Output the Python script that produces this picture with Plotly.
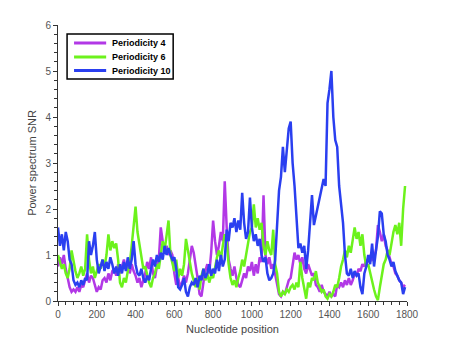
import plotly.graph_objects as go

pos = list(range(0, 1800, 10))

# Periodicity 4 (purple)
p4 = [0.75, 0.95, 0.8, 1.0, 0.7, 0.5, 0.3, 0.2, 0.25, 0.2,
      0.3, 0.2, 0.35, 0.3, 0.45, 0.6, 0.4, 0.55, 0.5, 0.35,
      0.2, 0.3, 0.25, 0.45, 0.5, 0.4, 0.6, 0.45, 0.65, 0.7,
      0.55, 0.8, 0.6, 0.75, 0.9, 0.7, 0.85, 0.6, 0.8, 0.65,
      0.55, 0.4, 0.5, 0.3, 0.45, 0.6, 0.85, 0.7, 0.95, 0.6,
      0.5, 0.75, 0.9, 1.6, 1.3, 1.05, 1.2, 1.0, 1.1, 1.0,
      0.6, 0.35, 0.5, 0.3, 0.4, 0.55, 0.4, 0.6, 0.9, 1.2,
      1.05, 0.8, 0.5, 0.15, 0.1, 0.4, 0.65, 0.8, 0.6, 1.05,
      1.75, 1.3, 1.0, 1.2, 1.5, 1.3, 2.6, 1.6, 0.9, 0.7,
      0.55, 0.75, 0.5, 0.35, 0.3, 0.45, 0.6, 0.5, 0.75, 0.65,
      0.85, 0.55, 0.8, 0.6, 0.95, 0.85, 2.3, 1.0, 0.8, 0.95,
      0.7, 0.8, 0.6, 0.35, 0.15, 0.1, 0.2, 0.15, 0.3, 0.45,
      0.5, 0.75, 1.05, 0.9, 1.0, 0.8, 0.95, 0.7, 0.6, 0.8,
      0.65, 0.55, 0.6, 0.35, 0.3, 0.2, 0.35, 0.2, 0.15, 0.1,
      0.2, 0.1, 0.15, 0.1, 0.35, 0.3, 0.4, 0.3, 0.45, 0.35,
      0.5, 0.35, 0.45, 0.6, 0.55, 0.7, 0.65, 0.8, 0.75, 0.9,
      0.85, 1.0, 0.9, 0.95, 1.1, 1.65, 1.5, 1.3, 1.45, 1.2,
      1.1, 0.95, 0.8, 0.75, 0.6, 0.55, 0.45, 0.4, 0.3, 0.35]

# Periodicity 6 (green)
p6 = [1.0, 0.85, 0.7, 0.8, 0.6, 0.5, 0.7, 1.1, 0.85, 0.65,
      0.5, 0.6, 0.75, 0.55, 0.7, 1.45, 0.9, 0.6, 0.75, 0.5,
      0.65, 0.8, 0.7, 0.9, 0.75, 1.0, 1.45, 1.1, 1.3, 1.15,
      1.25, 0.9, 0.4, 0.3, 0.5, 0.4, 0.65, 0.8, 1.2, 1.6,
      2.05, 1.5, 1.2, 0.95, 0.7, 0.75, 0.55, 0.4, 0.3, 0.5,
      0.6, 0.8, 0.7, 1.0, 1.3, 1.1, 1.5, 1.75, 1.0, 0.8,
      0.65, 0.9, 0.5, 0.7, 0.55, 0.8, 1.35, 1.1, 0.8, 0.6,
      0.45, 0.3, 0.5, 0.25, 0.55, 0.7, 0.45, 0.6, 0.4, 0.55,
      0.5, 0.75, 0.95, 1.1, 0.9, 1.2, 1.45, 1.3, 0.8, 0.5,
      0.35, 0.45, 0.3, 0.5, 0.65, 0.9, 0.75, 1.0, 1.3, 1.5,
      1.6, 2.1, 1.6, 1.8, 1.55, 1.7, 1.2, 1.0, 1.3, 1.1,
      1.0, 1.55, 0.8, 0.6, 0.2, 0.1, 0.2, 0.15, 0.25, 0.2,
      0.3, 0.35, 0.25, 0.4, 0.3, 0.85, 0.5, 0.3, 0.05, 0.4,
      0.3, 0.5, 0.45, 0.65, 0.4, 0.3, 0.2, 0.25, 0.1, 0.05,
      0.15, 0.1, 0.2, 0.35, 0.3, 0.5, 0.75, 0.9, 1.1, 0.95,
      1.2, 1.05, 1.3, 1.6, 1.35, 1.5, 1.2, 1.45, 1.0, 0.75,
      0.8, 0.6, 0.4, 0.25, 0.1, 0.02, 0.3, 0.6, 0.8, 0.9,
      1.1, 1.0, 1.3, 1.5, 1.65, 1.45, 1.7, 1.2, 2.0, 2.5]

# Periodicity 10 (blue)
p10 = [1.6, 1.2, 1.45, 1.1, 1.5, 1.3, 0.9, 0.8, 0.45, 0.35,
       0.4, 0.3, 0.45, 0.35, 0.5, 0.45, 1.3, 1.0, 1.2, 1.5,
       0.9, 0.6, 0.75, 0.9, 0.65, 0.85, 0.7, 0.95, 0.8, 0.6,
       0.75, 0.55, 0.8, 0.6, 0.85, 0.65, 0.95, 0.7, 0.9, 1.3,
       0.8, 0.6, 0.55, 0.7, 0.5, 0.4, 0.55, 0.45, 0.7, 0.9,
       0.75, 1.0, 0.85, 1.05, 0.9, 1.2, 1.0, 1.15, 1.0, 0.9,
       0.95, 0.7, 0.3, 0.25, 0.35, 0.5, 0.2, 0.1, 0.3, 0.4,
       0.35, 0.5, 0.3, 0.55, 0.45, 0.7, 0.5, 0.6, 0.8, 0.55,
       0.7, 0.6, 0.9, 0.65, 1.0, 0.75, 0.9, 1.55, 1.3, 1.7,
       1.6, 1.8, 1.5, 1.75, 1.55, 2.35, 1.7, 1.35, 1.5, 2.25,
       1.6, 1.3, 1.45, 1.2, 1.35, 1.0, 0.85, 0.95, 0.6, 0.45,
       0.5, 0.6, 0.9, 1.7, 2.4, 2.7, 3.35, 2.8, 3.3, 3.75,
       3.9, 3.0, 2.5, 1.7, 1.15, 1.25, 1.05, 1.2, 0.7, 1.1,
       1.8, 2.3, 1.65, 1.85, 2.05, 2.25, 2.4, 2.65, 2.5, 4.3,
       4.6, 5.0, 4.0, 3.5, 3.35, 2.5, 2.1, 1.7, 1.0, 0.6,
       0.55, 0.7, 0.5, 0.65, 0.55, 0.6, 0.3, 0.15, 0.6, 0.75,
       1.0, 0.8, 1.25, 0.75, 1.1, 1.4, 1.95, 1.9, 1.45, 1.3,
       1.0, 0.9, 0.75, 0.85, 0.65, 0.55, 0.45, 0.4, 0.15, 0.3]

names = ["Periodicity 4", "Periodicity 6", "Periodicity 10"]
colors = ["#b238e6", "#6cf21c", "#2a3ff0"]

fig = go.Figure()
for name, vals, col in zip(names, [p4, p6, p10], colors):
    fig.add_trace(go.Scatter(x=pos, y=vals, mode="lines", name=name,
                             line=dict(color=col, width=2.5), showlegend=False))

# hand-made legend box (plotly's native legend rows are too tall)
fig.add_shape(type="rect", xref="paper", yref="paper", x0=0.026, x1=0.33, y0=0.804, y1=0.967,
              line=dict(color="black", width=1.5), fillcolor="white", layer="above")
legend_y = [0.935, 0.884, 0.835]
for name, col, ly in zip(names, colors, legend_y):
    fig.add_shape(type="line", xref="paper", yref="paper", x0=0.046, x1=0.138, y0=ly, y1=ly,
                  line=dict(color=col, width=3), layer="above")
    fig.add_annotation(x=0.149, y=ly, xref="paper", yref="paper", text="<b>" + name + "</b>",
                       showarrow=False, xanchor="left", yanchor="middle",
                       font=dict(size=9, color="black"))

axis_style = dict(showline=True, linecolor="#333", linewidth=1, ticks="outside",
                  ticklen=4, tickcolor="#333", showgrid=False, zeroline=False,
                  tickfont=dict(size=10, color="#555"), mirror=False, automargin=False)

fig.update_xaxes(range=[0, 1800], dtick=200,
                 minor=dict(dtick=40, ticks="outside", ticklen=3, tickcolor="#333"),
                 title=dict(text="Nucleotide position", font=dict(size=11, color="#444"), standoff=6),
                 **axis_style)
fig.update_yaxes(range=[0, 6], dtick=1,
                 minor=dict(dtick=0.2, ticks="outside", ticklen=3, tickcolor="#333"),
                 title=dict(text="Power spectrum SNR", font=dict(size=11, color="#444"), standoff=6),
                 **axis_style)

# page body has an 8px margin, so the figure is a bit smaller than the window
fig.update_layout(
    width=442, height=330,
    margin=dict(l=50, r=43, t=17, b=37),
    plot_bgcolor="white", paper_bgcolor="white",
    font=dict(family="Liberation Sans, Arial, sans-serif"),
    showlegend=False,
)

fig.write_html("out.html")
